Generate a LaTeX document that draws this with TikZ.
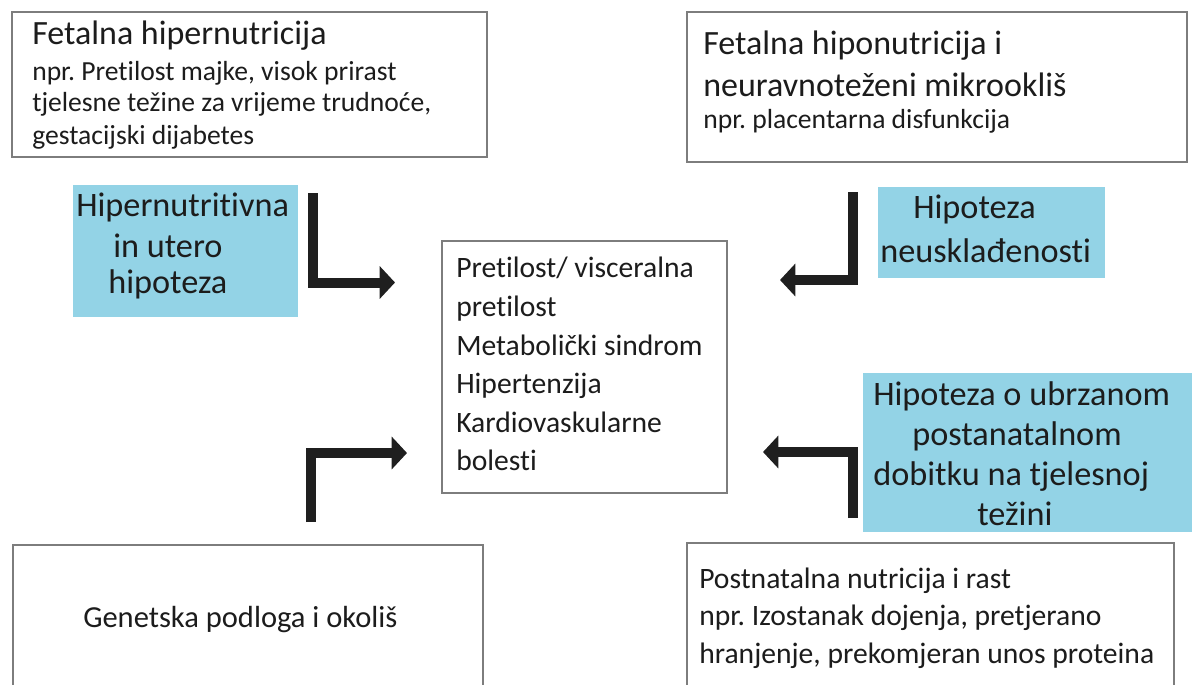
\documentclass[tikz,border=0pt]{standalone}
\usepackage{fontspec}
\setmainfont{Carlito}[Ligatures=NoCommon]
\frenchspacing
\usetikzlibrary{arrows.meta}
\definecolor{hypblue}{RGB}{147,211,230}
\definecolor{boxgray}{RGB}{125,125,125}
\definecolor{ink}{RGB}{28,28,28}
\tikzset{
  frame/.style={draw=boxgray, line width=1.4pt, fill=white, inner sep=0pt, rectangle},
  hyp/.style={fill=hypblue, inner sep=0pt, rectangle},
  txt/.style={anchor=base west, inner sep=0pt, text=ink},
  titlef/.style={font=\fontsize{25.5}{30}\selectfont},
  smallf/.style={font=\fontsize{20.7}{24}\selectfont},
  midf/.style={font=\fontsize{22.2}{26}\selectfont},
  genf/.style={font=\fontsize{22.9}{27}\selectfont},
  bigf/.style={font=\fontsize{25.7}{30}\selectfont},
  elbow/.style={draw=black!88, line width=7.5pt, line join=miter, line cap=butt,
    -{Triangle[length=11.5pt,width=24pt]}},
}
\begin{document}
\begin{tikzpicture}[x=0.75pt,y=-0.75pt]
\useasboundingbox (0,0) rectangle (1192,685);
\clip (0,0) rectangle (1192,685);

% boxes
\node[frame, minimum width={475*0.75pt}, minimum height={145*0.75pt}] (fhyper) at (249.5,84.5) {};
\node[frame, minimum width={500*0.75pt}, minimum height={150*0.75pt}] (fhypo) at (937,87) {};
\node[frame, minimum width={285*0.75pt}, minimum height={252*0.75pt}] (out) at (584.5,367) {};
\node[frame, minimum width={470*0.75pt}, minimum height={155*0.75pt}] (gen) at (248,622.5) {};
\node[frame, minimum width={487*0.75pt}, minimum height={157*0.75pt}] (post) at (930.5,621.5) {};

% hypothesis boxes
\node[hyp, minimum width={225*0.75pt}, minimum height={132*0.75pt}] (hl) at (185.5,251) {};
\node[hyp, minimum width={227*0.75pt}, minimum height={91*0.75pt}] (hr) at (991.5,232.5) {};
\node[hyp, minimum width={329*0.75pt}, minimum height={159*0.75pt}] (hbr) at (1027.5,452.5) {};

% top-left texts
\node[txt, titlef] (t1a) at (32,45) {Fetalna hipernutricija};
\node[txt, smallf] (t1b) at (32,80) {npr. Pretilost majke, visok prirast};
\node[txt, smallf] (t1c) at (32,112) {tjelesne težine za vrijeme trudnoće,};
\node[txt, smallf] (t1d) at (32,144) {gestacijski dijabetes};

% top-right texts
\node[txt, titlef] (t2a) at (703,55) {Fetalna hiponutricija i};
\node[txt, titlef] (t2b) at (703,97) {neuravnoteženi mikrookliš};
\node[txt, smallf] (t2c) at (703,128) {npr. placentarna disfunkcija};

% hypothesis texts
\node[txt, bigf] (h1a) at (76,216) {Hipernutritivna};
\node[txt, bigf] (h1b) at (113,257) {in utero};
\node[txt, bigf] (h1c) at (108,293) {hipoteza};

\node[txt, bigf] (h2a) at (913,218) {Hipoteza};
\node[txt, bigf] (h2b) at (880,262) {neusklađenosti};

\node[txt, bigf] (h3a) at (873,405) {Hipoteza o ubrzanom};
\node[txt, bigf] (h3b) at (912,445) {postanatalnom};
\node[txt, bigf] (h3c) at (873,485) {dobitku na tjelesnoj};
\node[txt, bigf] (h3d) at (977,525) {težini};

% centre texts
\node[txt, midf] (c1) at (456,277) {Pretilost/ visceralna};
\node[txt, midf] (c2) at (456,316) {pretilost};
\node[txt, midf] (c3) at (456,355) {Metabolički sindrom};
\node[txt, midf] (c4) at (456,393) {Hipertenzija};
\node[txt, midf] (c5) at (456,432) {Kardiovaskularne};
\node[txt, midf] (c6) at (456,470) {bolesti};

% bottom texts
\node[txt, genf] (g1) at (83,627) {Genetska podloga i okoliš};
\node[txt, midf] (p1) at (699,588) {Postnatalna nutricija i rast};
\node[txt, midf] (p2) at (699,625) {npr. Izostanak dojenja, pretjerano};
\node[txt, midf] (p3) at (699,663) {hranjenje, prekomjeran unos proteina};

% elbow arrows
\coordinate (a1s) at (312.5,193);
\coordinate (a1e) at (395,282.5);
\coordinate (a2s) at (852.5,192);
\coordinate (a2e) at (780,280);
\coordinate (a3s) at (311,522);
\coordinate (a3e) at (407,453);
\coordinate (a4s) at (853,518);
\coordinate (a4e) at (763,452);
\draw[elbow] (a1s) |- (a1e);
\draw[elbow] (a2s) |- (a2e);
\draw[elbow] (a3s) |- (a3e);
\draw[elbow] (a4s) |- (a4e);
\end{tikzpicture}
\end{document}
